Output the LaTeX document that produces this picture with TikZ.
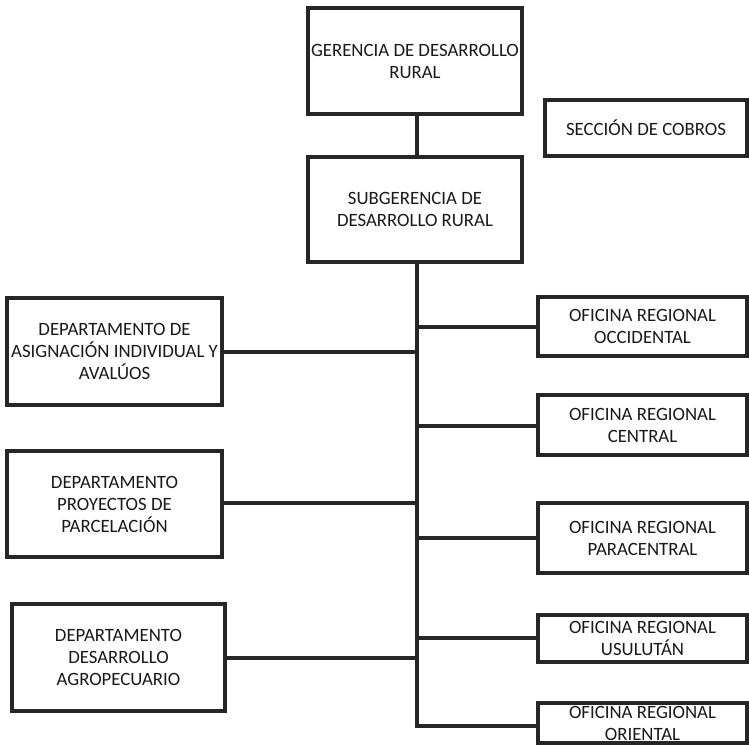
\documentclass[tikz,border=0pt]{standalone}
\usepackage{fontspec}
\setmainfont{Carlito}
\begin{document}
\begin{tikzpicture}[x=1pt,y=-1pt,
  box/.style={draw=black!85, line width=3.4pt, rectangle, inner sep=0pt, align=center,
    font=\fontsize{18.8}{22}\selectfont, text=black!90},
  link/.style={draw=black!85, line width=3.4pt}]
\useasboundingbox[fill=white] (0,0) rectangle (749,746);
% helper: box from corners
\newcommand{\mybox}[6]{%
  \node[box, minimum width={#4-#2}, minimum height={#5-#3}] (#1) at ({(#2+#4)/2},{(#3+#5)/2}) {#6};}
\mybox{ger}{308}{8}{522}{114}{GERENCIA DE DESARROLLO\\RURAL}
\mybox{cob}{545}{100}{747}{156}{SECCIÓN DE COBROS}
\mybox{sub}{308}{157}{522}{262}{SUBGERENCIA DE\\DESARROLLO RURAL}
\mybox{dai}{7}{298}{222}{405}{DEPARTAMENTO DE\\ASIGNACIÓN INDIVIDUAL Y\\AVALÚOS}
\mybox{dpp}{7}{451}{222}{557}{DEPARTAMENTO\\PROYECTOS DE\\PARCELACIÓN}
\mybox{dda}{12}{604}{225}{711}{DEPARTAMENTO\\DESARROLLO\\AGROPECUARIO}
\mybox{occ}{538}{297}{747}{356}{OFICINA REGIONAL\\OCCIDENTAL}
\mybox{cen}{538}{395}{747}{455}{OFICINA REGIONAL\\CENTRAL}
\mybox{par}{538}{503}{747}{573}{OFICINA REGIONAL\\PARACENTRAL}
\mybox{usu}{538}{615}{747}{662}{OFICINA REGIONAL\\USULUTÁN}
\mybox{ori}{538}{703}{747}{743}{OFICINA REGIONAL\\ORIENTAL}
% connectors
\coordinate (tb) at (417,726);
\draw[link] (ger.south -| 417,0) -- (sub.north -| 417,0);
\draw[link] (sub.south -| 417,0) -- (tb) -- (tb -| ori.west);
\draw[link] (dai.east |- 0,352) -- (417,352);
\draw[link] (dpp.east |- 0,503) -- (417,503);
\draw[link] (dda.east |- 0,658) -- (417,658);
\draw[link] (417,327) -- (occ.west |- 0,327);
\draw[link] (417,426) -- (cen.west |- 0,426);
\draw[link] (417,538) -- (par.west |- 0,538);
\draw[link] (417,638) -- (usu.west |- 0,638);
\end{tikzpicture}
\end{document}
